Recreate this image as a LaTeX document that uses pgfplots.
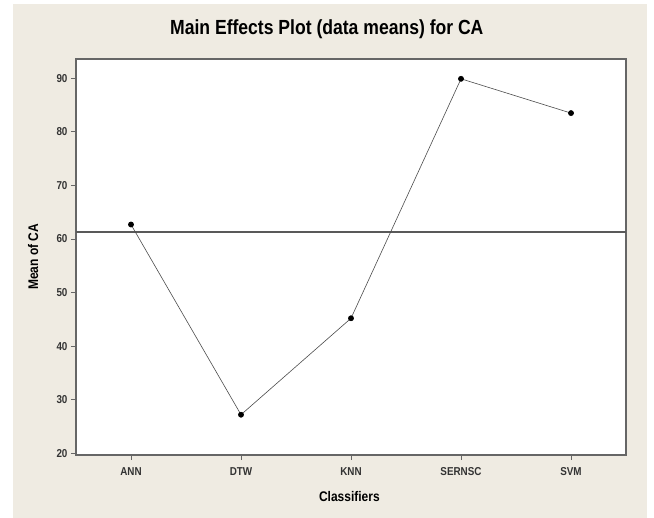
\documentclass[border=0pt]{standalone}
\usepackage{pgfplots}
\pgfplotsset{compat=1.18}
\usepackage{fontspec}
\setmainfont{Liberation Sans}[FakeStretch=0.86]
\definecolor{bg}{HTML}{EFEBE2}
\begin{document}
\begin{tikzpicture}[x=1bp,y=1bp]
\fill[white] (0,0) rectangle (654,518);
\fill[bg] (13,0) rectangle (647,514);
\begin{axis}[
 at={(76bp,63bp)}, anchor=south west,
 width=550bp, height=396bp, scale only axis,
 xmin=-0.5, xmax=4.5, ymin=19.68, ymax=93.6,
 xtick={0,1,2,3,4}, xticklabels={ANN,DTW,KNN,SERNSC,SVM},
 ytick={20,30,40,50,60,70,80,90},
 xtick pos=lower, ytick pos=left,
 tick align=outside, major tick length=5bp,
 axis background/.style={fill=white},
 axis line style={draw=black!60, line width=1.3pt},
 tick style={black!60, line width=0.7pt},
 ticklabel style={font=\bfseries\fontsize{11.5}{12}\selectfont, text=black!80},
 xticklabel style={yshift=-4bp},
 /pgf/number format/assume math mode=true,
 title={Main Effects Plot (data means) for CA},
 title style={font=\bfseries\fontsize{20.5}{22}\selectfont, at={(axis description cs:0.456,1.061)}, anchor=center},
 xlabel={Classifiers},
 xlabel style={font=\bfseries\fontsize{14}{15}\selectfont, at={(axis description cs:0.497,-0.106)}, anchor=center},
 ylabel={Mean of CA},
 ylabel style={font=\bfseries\fontsize{14}{15}\selectfont, at={(axis description cs:-0.078,0.5)}, anchor=center},
 clip=true,
]
\addplot[black!65, line width=1.3pt, forget plot] coordinates {(-0.5,61.3) (4.5,61.3)};
\addplot[black!70, line width=0.6pt, mark=*, mark size=2.6pt, mark options={fill=black, draw=black, solid}] coordinates {(0,62.7) (1,27.2) (2,45.2) (3,89.9) (4,83.5)};
\end{axis}
\end{tikzpicture}
\end{document}
